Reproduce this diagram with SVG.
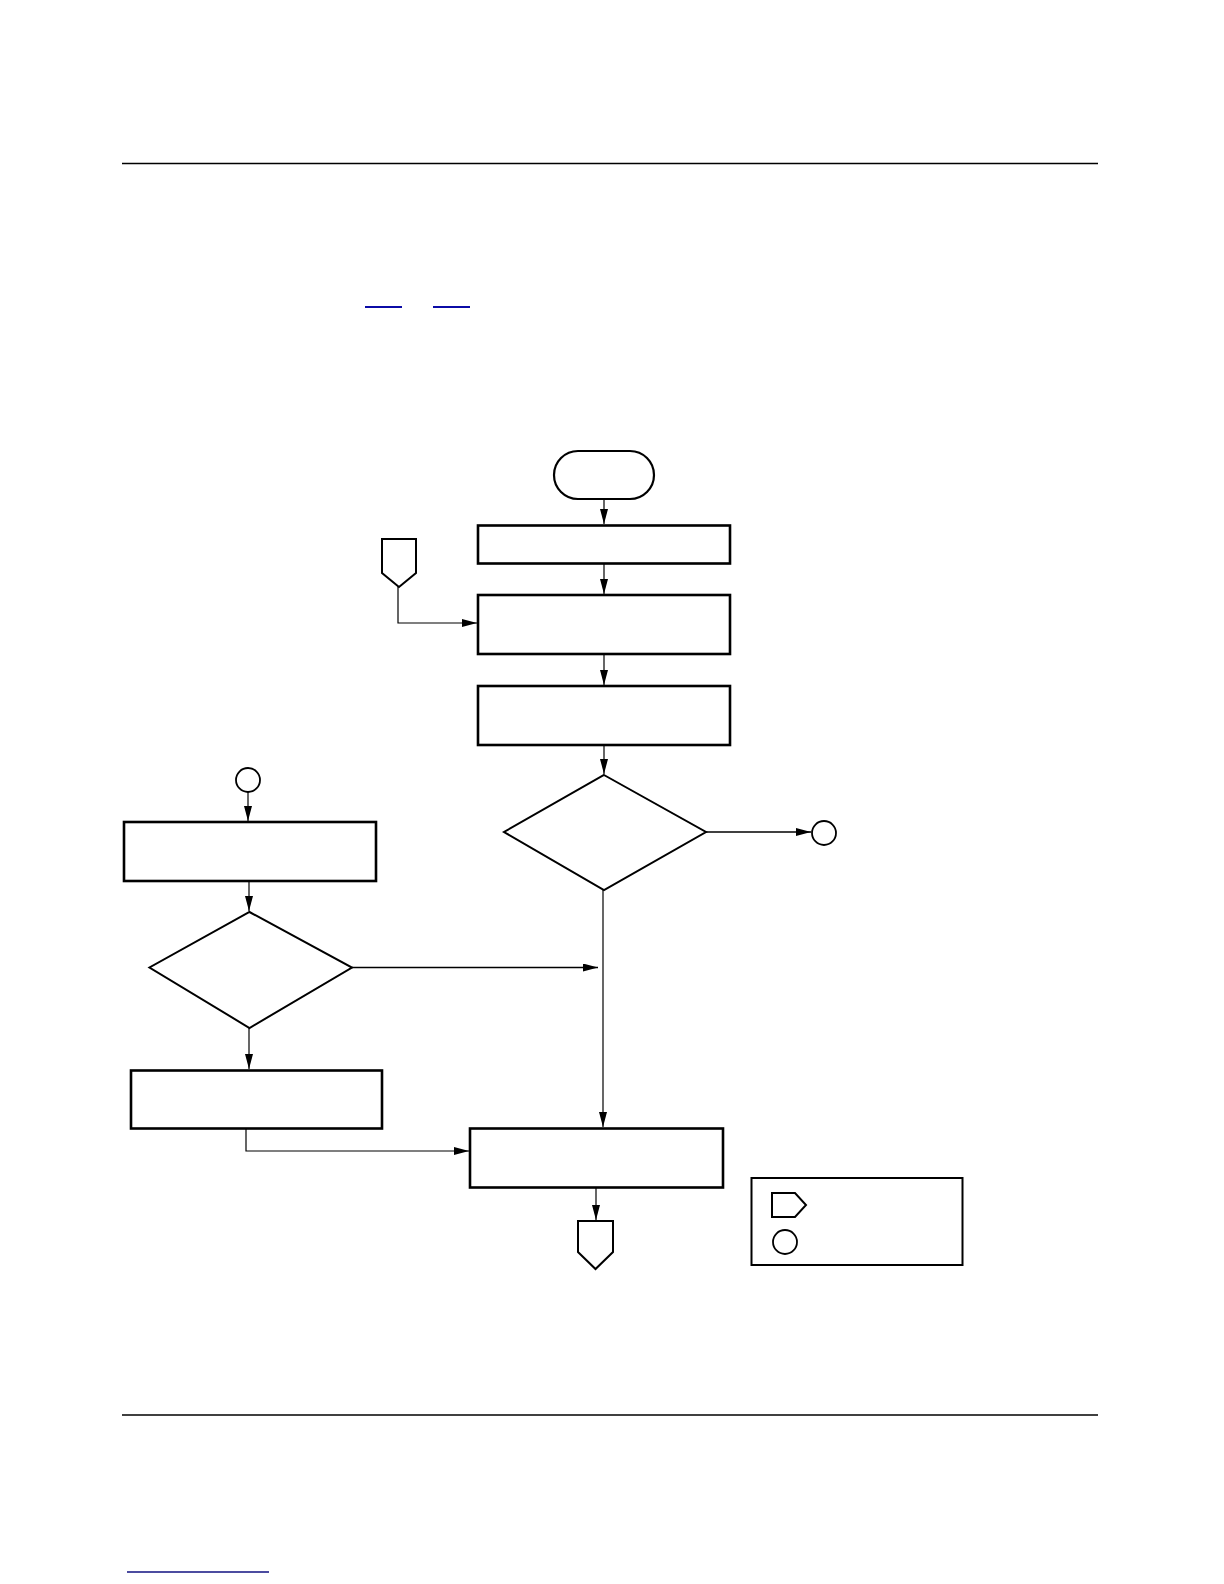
<svg xmlns="http://www.w3.org/2000/svg" width="1224" height="1584" viewBox="0 0 1224 1584">
<style>
.box{fill:#fff;stroke:#000;stroke-width:2.6}
.dia{fill:#fff;stroke:#000;stroke-width:2}
.term{fill:#fff;stroke:#000;stroke-width:2.2}
.circ{fill:#fff;stroke:#000;stroke-width:1.8}
.off{fill:#fff;stroke:#000;stroke-width:2}
.con{fill:none;stroke:#000;stroke-width:1.2}
.rule{stroke:#000;stroke-width:1.5}
.link{stroke:#0b0ba6;stroke-width:2}
</style>
<defs>
<marker id="ah" markerUnits="userSpaceOnUse" markerWidth="16" markerHeight="10" refX="15" refY="4" orient="auto">
<path d="M0,0 L15,4 L0,8 Z" fill="#000"/>
</marker>
</defs>
<rect width="1224" height="1584" fill="#fff"/>
<line class="rule" x1="122" y1="163.5" x2="1098" y2="163.5"/>
<line class="link" x1="365" y1="307" x2="402" y2="307"/>
<line class="link" x1="433" y1="307" x2="470" y2="307"/>
<line class="rule" x1="122" y1="1415" x2="1098" y2="1415"/>
<line x1="127" y1="1572" x2="269" y2="1572" stroke="#101080" stroke-width="1.5"/>

<g id="connectors">
<line class="con" x1="604" y1="499" x2="604" y2="524" marker-end="url(#ah)"/>
<line class="con" x1="604" y1="564" x2="604" y2="594" marker-end="url(#ah)"/>
<polyline class="con" points="398,586 398,623 477,623" marker-end="url(#ah)"/>
<line class="con" x1="604" y1="654" x2="604" y2="685" marker-end="url(#ah)"/>
<line class="con" x1="604" y1="745" x2="604" y2="774" marker-end="url(#ah)"/>
<line class="con" x1="706" y1="832" x2="811" y2="832" marker-end="url(#ah)" style="stroke-width:1.6"/>
<line class="con" x1="603" y1="890" x2="603" y2="1127" marker-end="url(#ah)"/>
<line class="con" x1="248" y1="792" x2="248" y2="821" marker-end="url(#ah)"/>
<line class="con" x1="249" y1="881" x2="249" y2="911" marker-end="url(#ah)"/>
<line class="con" x1="352" y1="967.5" x2="598" y2="967.5" marker-end="url(#ah)" style="stroke-width:1.6"/>
<line class="con" x1="249" y1="1028" x2="249" y2="1069" marker-end="url(#ah)"/>
<polyline class="con" points="246,1129 246,1151 469,1151" marker-end="url(#ah)"/>
<line class="con" x1="596" y1="1188" x2="596" y2="1220" marker-end="url(#ah)"/>
</g>

<g id="start"><rect class="term" x="554" y="451" width="100" height="48" rx="24" ry="24"/></g>
<g id="box1"><rect class="box" x="478" y="525.5" width="252" height="38"/></g>
<g id="offpage-in"><polygon class="off" points="382,539 416,539 416,573 399,587 382,573"/></g>
<g id="box2"><rect class="box" x="478" y="595" width="252" height="59"/></g>
<g id="box3"><rect class="box" x="478" y="686" width="252" height="59"/></g>
<g id="decision1"><polygon class="dia" points="604,775 706,832 604,890 504,832"/></g>
<g id="conn-out"><circle class="circ" cx="824" cy="833" r="12"/></g>
<g id="conn-in"><circle class="circ" cx="248" cy="780" r="12"/></g>
<g id="boxA"><rect class="box" x="124" y="822" width="252" height="59"/></g>
<g id="decision2"><polygon class="dia" points="249.5,912 352,967.5 249.5,1028 149.5,967.5"/></g>
<g id="boxB"><rect class="box" x="131" y="1070.5" width="251" height="58"/></g>
<g id="boxC"><rect class="box" x="470" y="1128.5" width="253" height="59"/></g>
<g id="offpage-out"><polygon class="off" points="578,1221 613,1221 613,1252 595.5,1269 578,1252"/></g>
<g id="legend">
<rect x="751.5" y="1178" width="211" height="87" fill="#fff" stroke="#000" stroke-width="2"/>
<polygon class="off" points="772,1193 795,1193 806,1205 795,1217 772,1217"/>
<circle class="circ" cx="785" cy="1242" r="12"/>
</g>
</svg>
